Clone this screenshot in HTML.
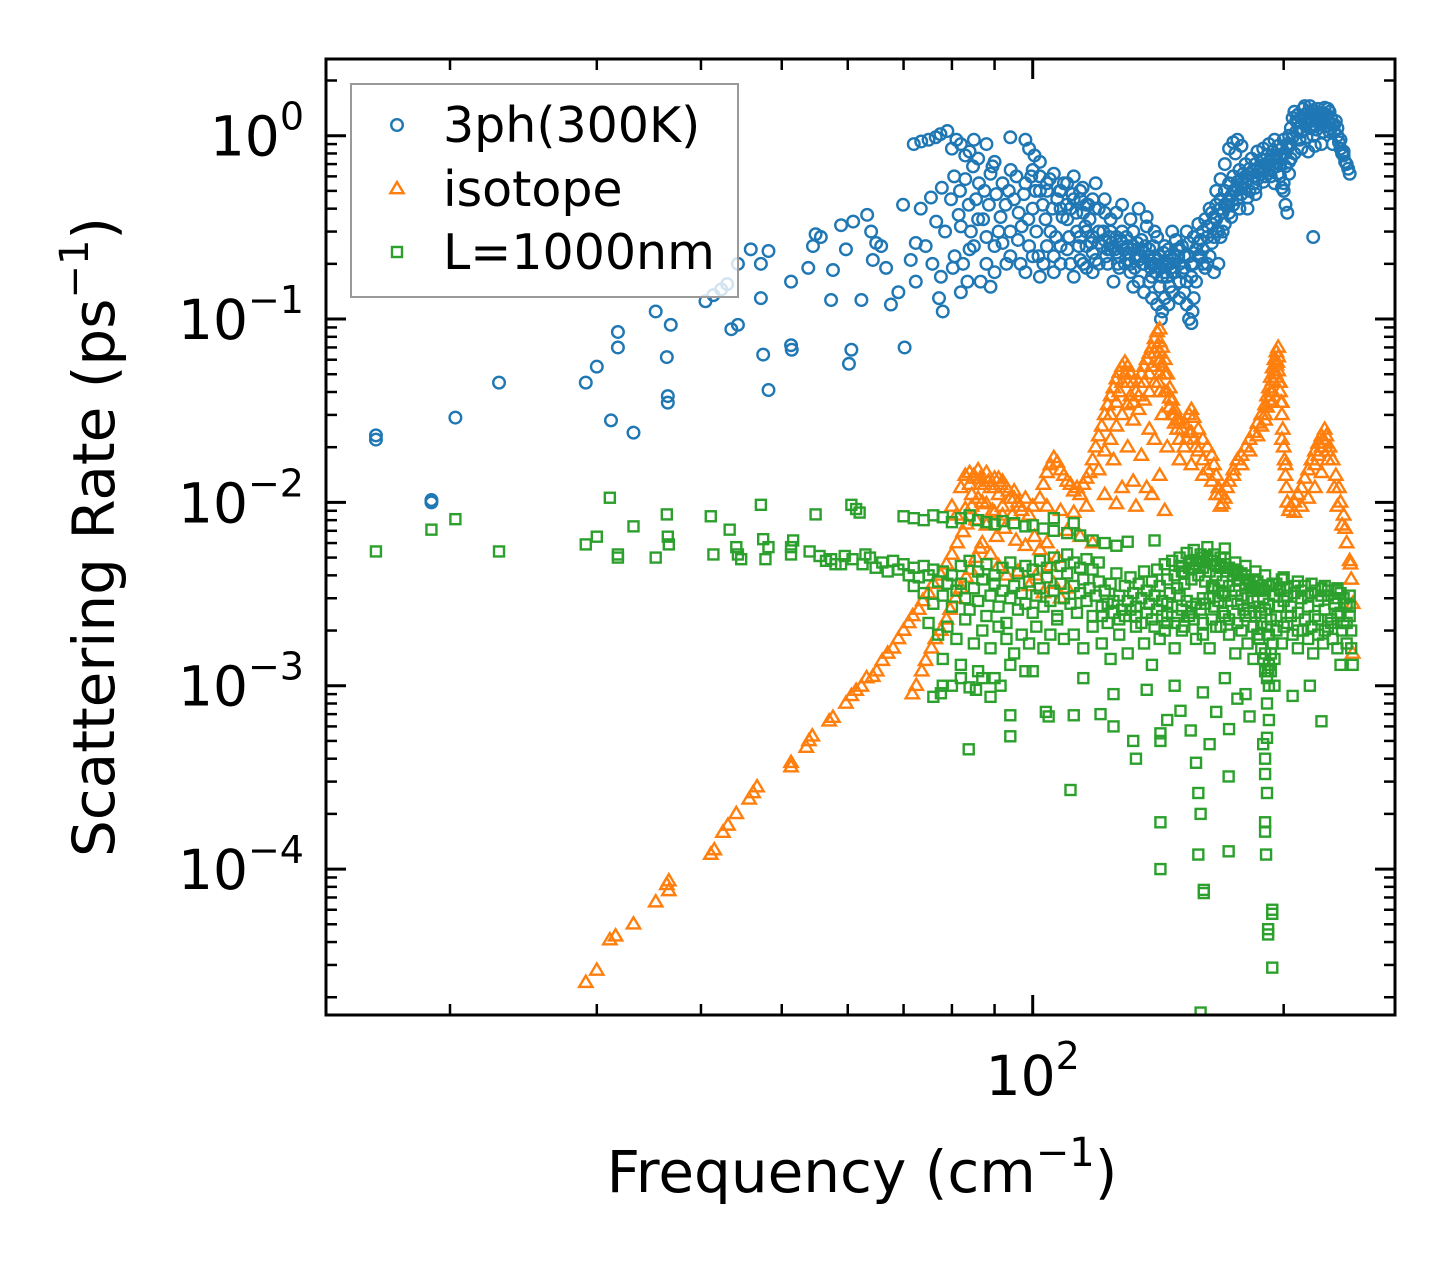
<!DOCTYPE html>
<html><head><meta charset="utf-8"><style>
html,body{margin:0;padding:0;background:#fff;}
svg{display:block;font-family:"DejaVu Sans","Liberation Sans",sans-serif;}
</style></head><body>
<svg id="chart" width="1455" height="1265" viewBox="0 0 1455 1265" xmlns="http://www.w3.org/2000/svg">
<rect x="0" y="0" width="1455" height="1265" fill="#fff"/>
<g id="marks"></g>
<g id="axes"></g>
</svg>
<script>
const xDomain = [14.2, 272];
const yDomain = [1.6e-5, 2.62];
const yTickExps = [0, -1, -2, -3, -4];
const xTickExps = [2];
const seriesNames = ["3ph(300K)", "isotope", "L=1000nm"];

const threePh = [
[16.3,0.022],[16.3,0.0232],[19,0.0100],[19,0.0103],[20.3,0.029],[22.9,0.045],[29.1,0.045],[30,0.055],[31.2,0.028],[31.8,0.07],[31.8,0.085],[33.2,0.024],[35.3,0.11],[36.4,0.062],[36.5,0.038],[36.5,0.035],[36.8,0.093],
[40.5,0.125],[41.4,0.135],[42.3,0.145],[43,0.155],[43.5,0.088],[44.3,0.093],[44.3,0.2],[45.9,0.24],[47.2,0.2],[47.2,0.13],[47.5,0.064],[48.2,0.041],[48.2,0.235],[51.3,0.16],[51.3,0.072],[51.4,0.068],[53.8,0.19],[54.5,0.25],[54.9,0.29],[55.7,0.28],[57.3,0.127],[57.6,0.185],[58.9,0.325],[59.7,0.24],[60.2,0.057],[60.6,0.068],[60.9,0.34],[62.3,0.127],[63.3,0.37],[64,0.3],[64.3,0.21],[64.9,0.26],[65.8,0.25],[66.7,0.19],[67.6,0.12],[69,0.14],[69.9,0.42],[70.2,0.07],[71.4,0.21],[72.4,0.26],[72.4,0.16],[73.4,0.4],[74.4,0.25],[75.5,0.46],[75.8,0.2],[76.6,0.34],[77.2,0.13],[77.6,0.17],[77.8,0.52],[78,0.11],[78.5,0.3],
[72,0.9],[73.5,0.93],[75,0.95],[76.5,0.98],[77.5,1.02],[79,1.06],[80,0.85],[81,0.95],[82,0.9],[83,0.78],[84,0.82],[85,0.95],[86,0.75],[88,0.9],[90,0.72],[89,0.62],[98,0.95],[99,0.85],[100.5,0.78],[102,0.72],[94,0.98],
[79.8,0.45],[80.2,0.19],[80.6,0.22],[81.5,0.37],[82,0.14],[82.5,0.2],[83,0.58],[83.5,0.16],[84.3,0.3],[85,0.25],[85.5,0.45],[86.6,0.16],[87.5,0.5],[88,0.2],[89,0.15],[89.5,0.68],[90,0.25],[91.5,0.36],[92,0.55],[93,0.2],[94,0.3],[94.1,0.65],[95,0.45],[96.7,0.2],[97,0.32],[98,0.55],[99,0.25],[100,0.4],[101,0.3],[102,0.6],[103,0.2],[104,0.5],[105,0.3],[106,0.22],[107,0.45],[108,0.25],[109,0.55],[110,0.35],[111,0.2],[112,0.6],[113,0.3],[114,0.45],[115,0.2],[116,0.25],[117,0.35],[118,0.18],[119,0.55],[120,0.3],
[80.5,0.6],[81.8,0.5],[83.8,0.42],[84.8,0.68],[86.2,0.55],[87.2,0.35],[88.6,0.42],[90.4,0.48],[91,0.3],[92.8,0.42],[93.6,0.5],[95.6,0.6],[96.2,0.38],[97.6,0.48],[98.8,0.35],[99.6,0.6],[100.8,0.5],[101.6,0.22],[102.8,0.42],[103.6,0.35],[104.8,0.58],[105.6,0.4],[106.6,0.28],[107.8,0.5],[108.6,0.36],[109.8,0.42],[110.6,0.28],[111.6,0.48],[112.8,0.38],[113.6,0.25],[114.8,0.52],[115.6,0.32],[116.6,0.42],[117.6,0.26],[118.8,0.4],
[121,0.25],[122,0.45],[123,0.2],[124,0.35],[125,0.16],[126,0.28],[127,0.22],[128,0.3],[129,0.2],[130,0.25],[131,0.18],[132,0.3],[133,0.22],[134,0.16],[135,0.27],[136,0.2],[137,0.32],[138,0.24],[139,0.17],[140,0.22],[141,0.28],[142,0.15],[143,0.2],[144,0.25],[145,0.17],[146,0.22],[147,0.3],[148,0.18],[149,0.24],[150,0.2],
[121.5,0.3],[122.5,0.22],[123.5,0.28],[124.5,0.26],[125.5,0.24],[126.5,0.2],[127.5,0.27],[128.5,0.24],[129.5,0.28],[130.5,0.21],[131.5,0.24],[132.5,0.19],[133.5,0.26],[134.5,0.22],[135.5,0.2],[136.5,0.25],[137.5,0.22],[138.5,0.19],[139.5,0.25],[140.5,0.18],[141.5,0.21],[142.5,0.19],[143.5,0.23],[144.5,0.2],[145.5,0.24],[146.5,0.19],[147.5,0.21],[148.5,0.27],[149.5,0.22],
[126,0.38],[128,0.42],[131,0.35],[134,0.4],[137,0.36],[140,0.3],[132,0.15],[136,0.14],[139,0.13],[141,0.12],[142.5,0.1],[143,0.11],[144,0.13],[145.5,0.12],[147,0.14],[150,0.16],[152,0.14],[153,0.12],[154,0.1],[155,0.095],[155.5,0.11],[156,0.13],
[151,0.25],[152,0.22],[153,0.3],[154,0.26],[155,0.2],[156,0.28],[157,0.24],[158,0.33],[159,0.27],[160,0.3],[161,0.35],[162,0.28],[163,0.4],[164,0.33],[165,0.36],[166,0.42],[167,0.3],[168,0.45],[169,0.38],[170,0.5],[171,0.42],[172,0.55],[173,0.47],[174,0.6],[175,0.5],[176,0.56],[177,0.65],[178,0.52],[179,0.62],[180,0.7],[181,0.58],[182,0.66],[183,0.75],[184,0.6],[185,0.7],[186,0.82],[187,0.64],[188,0.74],[189,0.85],[190,0.7],[191,0.78],[192,0.9],[193,0.72],[194,0.82],[195,0.95],[196,0.78],[197,0.88],[198,0.7],[199,0.85],[200,0.95],[201,0.8],[202,0.9],
[158,0.22],[160,0.24],[162,0.2],[164,0.26],[166,0.3],[168,0.28],[170,0.33],[172,0.38],[174,0.42],[176,0.45],[178,0.48],[180,0.55],[182,0.5],[184,0.55],[186,0.58],[188,0.62],[190,0.6],[192,0.65],[194,0.7],[196,0.68],[198,0.6],[200,0.5],[201,0.42],[202,0.38],[200,0.55],[170,0.7],[172,0.85],[174,0.92],[176,0.95],[178,0.88],[175,0.8],[166,0.5],[168,0.58],[163,0.22],[165,0.18],[167,0.2],[185,0.48],[181,0.4],[195,0.55],[217,0.28],
[203,1.0],[204,1.1],[205,1.25],[206,1.35],[207,1.2],[208,1.3],[209,1.1],[210,1.25],[211,1.4],[212,1.3],[213,1.15],[214,1.35],[215,1.45],[216,1.25],[217,1.38],[218,1.3],[219,1.2],[220,1.4],[221,1.33],[222,1.25],[223,1.3],[224,1.42],[225,1.3],[226,1.22],[227,1.35],[228,1.25],[229,1.15],[230,1.05],[231,1.2],[232,1.0],[203,0.88],[205,0.98],[207,1.05],[209,0.95],[211,1.08],[213,0.98],[215,1.1],[217,1.0],[219,1.08],[221,1.15],[223,1.05],[225,1.12],[227,1.05],[229,0.9],[206,0.8],[210,0.85],[214,0.82],[218,0.88],[222,0.9],
[233,0.92],[234,0.85],[235,0.8],[236,0.78],[237,0.72],[238,0.7],[239,0.66],[240,0.62],[234,0.95],[236,0.82],
[82,0.32],[84,0.24],[86,0.35],[88,0.28],[90,0.18],[92,0.26],[94,0.22],[96,0.27],[98,0.18],[100,0.22],[102,0.17],[104,0.25],[106,0.18],[108,0.2],[110,0.24],[112,0.17],[114,0.21],[116,0.19],[118,0.23],[120,0.2],
[100,0.65],[102,0.5],[104,0.55],[106,0.62],[108,0.5],[110,0.55],[112,0.45],[114,0.5],[116,0.42],[118,0.45],[120,0.4],[122,0.38],[124,0.3],[108,0.4],[111,0.4],[115,0.38],
[114,0.28],[116,0.3],[118,0.28],[120,0.26],[122,0.27],[124,0.24],[126,0.23],[128,0.26],[130,0.23],[132,0.25],[134,0.21],[136,0.23],[138,0.21],[140,0.2],[142,0.22],[144,0.18],[146,0.2],[148,0.22],[150,0.24],[152,0.19],[154,0.22],[156,0.2],[158,0.26],[160,0.2],
[119,0.21],[123,0.24],[127,0.19],[131,0.2],[135,0.24],[139,0.2],[143,0.17],[147,0.18],[151,0.18],[155,0.17],[159,0.22],[161,0.19],[138,0.16],[146,0.15],[150,0.13],[153,0.16],[157,0.16],
[162,0.32],[164,0.38],[166,0.35],[168,0.4],[170,0.42],[172,0.45],[174,0.5],[176,0.52],[178,0.58],[180,0.6],[182,0.62],[184,0.65],[186,0.66],[188,0.68],[190,0.66],[192,0.72],[194,0.75],[196,0.72],[198,0.78],[200,0.8],[202,0.85],[204,0.9],
[165,0.28],[169,0.3],[173,0.36],[177,0.4],[181,0.46],[185,0.52],[189,0.56],[193,0.6],[197,0.62],[201,0.68],[203,0.72],[199,0.52],[203,0.62],[204,0.75],
[208,1.18],[212,1.22],[216,1.32],[220,1.22],[224,1.18],[228,1.1],[230,1.15],[232,1.1],[210,1.05],[214,1.2],[218,1.12],[222,1.32],[226,1.4],[212,1.45],[220,1.28]
];

const isotope = [
[29.1,2.4e-5],[30,2.8e-5],[31.1,4.1e-5],[31.6,4.3e-5],[33.2,5e-5],[35.3,6.6e-5],[36.4,8.2e-5],[36.6,8.6e-5],[36.6,7.6e-5],[41.1,1.2e-4],[41.5,1.27e-4],[42.5,1.58e-4],[43.1,1.73e-4],[44.1,2.0e-4],[45.7,2.4e-4],[46.2,2.6e-4],[46.7,2.8e-4],[51.3,3.6e-4],[51.3,3.8e-4],[53.5,4.6e-4],[53.9,5e-4],[54.4,5.3e-4],[57,6.4e-4],[57.6,6.7e-4],[59.7,8e-4],[60.6,8.8e-4],[61.4,9.4e-4],[62.3,9.9e-4],[63.2,1.1e-3],[64.3,1.12e-3],[65,1.2e-3],[66,1.37e-3],[67,1.5e-3],[68,1.6e-3],[69,1.8e-3],[70,2e-3],[71,2.2e-3],[71.8,2.4e-3],[73,2.6e-3],[73.8,2.9e-3],[75,3.2e-3],[76,3.6e-3],[77.6,4e-3],[78.8,4.6e-3],[80,5.2e-3],[81.2,6e-3],[82.5,6.9e-3],[83.3,7.6e-3],
[71.7,9.0e-4],[72.5,1.0e-3],[73.6,1.2e-3],[74.4,1.37e-3],[75.6,1.6e-3],[76.4,1.8e-3],[77.6,2.0e-3],[78.8,2.3e-3],[79.6,2.6e-3],[80.8,3e-3],[82,3.4e-3],[83.2,3.9e-3],[84.2,4.3e-3],[85.5,5e-3],[86.5,5.6e-3],
[82,0.012],[83,0.014],[84,0.0145],[84.5,0.011],[85,0.0135],[86,0.015],[86.6,0.0125],[87,0.010],[88,0.0145],[89,0.012],[89.5,0.009],[90,0.0135],[91,0.011],[91.5,0.0125],[92,0.0095],[93,0.012],[94,0.0105],[94.5,0.0085],[95,0.0115],[96,0.01],[97,0.009],[98,0.0105],[99,0.0085],[100,0.0095],[80,0.0095],[81,0.0085],[83,0.0092],[85.5,0.008],[88,0.0075],[90.5,0.0065],[92.5,0.0072],[95.5,0.0062],[98,0.0058],[100.5,0.0065],[102,0.0055],[104,0.006],[105,0.0045],[107,0.005],[87,0.006],[89,0.0052],[91,0.0045],[93,0.004],[96,0.0042],[99,0.0035],[101,0.004],[103,0.0032],[106,0.0036],[108,0.003],[110,0.0034],
[102,0.0105],[103,0.0125],[104,0.0145],[105,0.016],[106,0.0175],[107,0.0165],[108,0.015],[109,0.014],[110,0.013],[111,0.0125],[112,0.0115],[113,0.012],[114,0.011],[115,0.0125],[116,0.0135],[117,0.0145],[104,0.0095],[108,0.009],[112,0.0088],[116,0.0095],[110,0.007],[114,0.0065],[118,0.006],
[118,0.017],[119,0.02],[120,0.023],[121,0.026],[122,0.03],[123,0.034],[124,0.038],[125,0.042],[126,0.047],[127,0.051],[128,0.055],[129,0.058],[130,0.055],[131,0.05],[132,0.045],[133,0.04],[134,0.045],[135,0.05],[136,0.055],[137,0.06],[138,0.065],[139,0.07],[140,0.078],[141,0.085],[142,0.088],[142,0.075],[143,0.07],[144,0.06],[145,0.05],[146,0.042],[147,0.036],[148,0.032],[149,0.028],
[120,0.015],[122,0.019],[124,0.022],[126,0.026],[128,0.03],[130,0.034],[132,0.028],[134,0.032],[136,0.036],[138,0.04],[140,0.045],[142,0.05],[144,0.04],[146,0.033],[148,0.027],[125,0.017],[130,0.02],[135,0.018],[140,0.022],[145,0.02],[128,0.012],[132,0.013],[137,0.012],[142,0.014],[138,0.025],[131,0.038],[127,0.04],[143,0.03],[122,0.011],[126,0.0098],[133,0.0095],[139,0.011],[144,0.009],[142,0.065],[141.5,0.045],[142,0.04],[141.8,0.058],
[150,0.028],[152,0.027],[154,0.03],[155,0.032],[156,0.029],[158,0.025],[160,0.022],[162,0.02],[164,0.018],[165,0.016],[166,0.014],[167,0.012],[168,0.011],[169,0.0098],[170,0.0105],[171,0.012],[150,0.022],[152,0.02],[154,0.024],[156,0.022],[158,0.019],[160,0.017],[162,0.015],[164,0.013],[166,0.011],[168,0.0095],[150,0.017],[155,0.016],[160,0.014],
[172,0.013],[174,0.015],[176,0.017],[178,0.018],[180,0.02],[182,0.022],[184,0.024],[186,0.027],[188,0.03],[190,0.034],[191,0.038],[192,0.042],[193,0.048],[194,0.054],[195,0.06],[196,0.066],[197,0.07],[196.5,0.058],[195.5,0.05],[197.5,0.045],[198,0.04],[198.5,0.035],[199,0.03],[199.5,0.025],[200,0.02],[200.5,0.017],[201,0.014],[201.5,0.012],[202,0.01],[203,0.009],[174,0.014],[178,0.016],[182,0.019],[186,0.023],[190,0.028],[194,0.04],[197,0.052],[199,0.022],[201,0.016],
[204,0.0095],[206,0.01],[208,0.011],[210,0.012],[212,0.0135],[214,0.015],[216,0.017],[218,0.019],[220,0.021],[222,0.023],[224,0.025],[223,0.022],[225,0.023],[227,0.02],[229,0.017],[231,0.014],[233,0.012],[234,0.01],[236,0.0085],[237,0.0072],[238,0.006],[240,0.0048],[240.5,0.0046],[242,0.0028],[241,0.0038],[242,0.0015],[206,0.0088],[210,0.0095],[214,0.0105],[218,0.012],[222,0.0145],[226,0.017],[230,0.012],[232,0.0095],[235,0.0075],
[84,0.0125],[85,0.014],[86.5,0.0135],[87.5,0.0125],[88.5,0.013],[90,0.012],[91,0.0135],[92,0.013],[93.5,0.0115],[95,0.0105],[96.5,0.0095],[84.5,0.0095],[86,0.0105],[88,0.0098],[90,0.0088],[92,0.0085],
[124,0.03],[126,0.035],[128,0.045],[129,0.05],[130,0.045],[132,0.035],[134,0.038],[136,0.045],[138,0.05],[139,0.055],[140,0.065],[141,0.07],[142,0.06],[143,0.055],[144,0.05],[145,0.04],[146,0.037],[147,0.03],[148,0.03],[149,0.025],[151,0.025],[153,0.022],[155,0.024],[157,0.02],
[188,0.026],[190,0.03],[191,0.033],[192,0.036],[193,0.04],[194,0.046],[195,0.052],[196,0.056],[197,0.062],[196,0.048],[194,0.035],[198,0.045],[199,0.035],[218,0.016],[220,0.018],[222,0.02],[224,0.021],[226,0.019]
];

const boundary = [
[16.3,0.0054],[19,0.0071],[20.3,0.0081],[22.9,0.0054],[29.1,0.0059],[30,0.0065],[31.1,0.0106],[31.8,0.005],[31.8,0.0052],[33.2,0.0074],[35.3,0.005],[36.4,0.0086],[36.5,0.0065],[36.6,0.0059],[41.1,0.0084],[41.4,0.0052],[43.3,0.0071],[44.1,0.0057],[44.3,0.0052],[44.7,0.0049],[47.2,0.0097],[47.5,0.0063],[47.8,0.0049],[48.2,0.0057],[51.3,0.0057],[51.3,0.0052],[51.6,0.0062],[54.9,0.0086],[57.3,0.0049],[58,0.0046],[58.9,0.0046],[60.6,0.0097],[61.4,0.0092],[62,0.0088],[63,0.0052],
[54,0.0054],[55.5,0.0051],[56.5,0.0048],[59.5,0.0051],[60.8,0.0049],[62.5,0.0046],[63.8,0.005],[64.8,0.0044],[66,0.0047],[67,0.0042],[68,0.0048],[69,0.0043],[70,0.0046],[71,0.004],[72,0.0044],[73,0.0039],[74,0.0045],[75,0.004],[76,0.0043],[77,0.0037],[78,0.0042],[79,0.0036],[80,0.004],
[70,0.0084],[72,0.0082],[74,0.008],[76,0.0085],[78,0.0083],[80,0.0078],[82,0.0082],[84,0.0085],[86,0.008],[88,0.0078],[90,0.0076],[92,0.0079],[95,0.0077],[98,0.0074],[100,0.0075],[103,0.0072],[106,0.007],[110,0.0068],[114,0.0066],[118,0.0062],[122,0.006],[126,0.0058],[106,0.0082],[112,0.0077],[130,0.0061],[140,0.0062],
[72,0.0035],[74,0.0032],[76,0.0028],[78,0.0031],[80,0.0027],[81,0.0033],[82,0.0036],[83,0.003],[84,0.0026],[85,0.0034],[86,0.0029],[87,0.0038],[88,0.0024],[89,0.0031],[90,0.0036],[91,0.0027],[92,0.0033],[93,0.0022],[94,0.003],[95,0.0035],[96,0.0026],[97,0.0032],[98,0.0028],[99,0.0037],[100,0.0025],[101,0.0031],[102,0.0034],[103,0.0027],[104,0.0039],[105,0.0029],[106,0.0033],[107,0.0024],[108,0.0036],[109,0.003],[110,0.0041],
[75,0.0022],[77,0.0019],[79,0.0021],[81,0.0018],[83,0.0023],[85,0.0017],[87,0.002],[89,0.0016],[91,0.0021],[93,0.0018],[95,0.0015],[97,0.0019],[99,0.0017],[101,0.0021],[103,0.0016],[105,0.0019],[107,0.0023],[109,0.0018],[78,0.0014],[82,0.0013],[86,0.0012],[90,0.0011],[94,0.0013],[98,0.0012],[80,0.001],[84,0.00098],[76,0.00087],
[82,0.0045],[84,0.0048],[86,0.0042],[88,0.0046],[90,0.004],[92,0.0044],[94,0.0047],[96,0.0041],[98,0.0045],[100,0.0043],[102,0.0048],[104,0.0044],[106,0.005],[108,0.0045],[110,0.0052],[112,0.0047],[114,0.0044],[116,0.0049],[118,0.0043],[120,0.0047],
[111,0.0028],[112,0.0035],[113,0.0025],[114,0.0032],[115,0.0038],[116,0.0029],[117,0.0034],[118,0.0024],[119,0.0031],[120,0.0037],[121,0.0027],[122,0.0033],[123,0.0022],[124,0.0036],[125,0.0029],[126,0.0041],[127,0.0031],[128,0.0026],[129,0.0035],[130,0.0029],[131,0.0039],[132,0.0032],[133,0.0027],[134,0.0036],[135,0.003],[136,0.0042],[137,0.0033],[138,0.0028],[139,0.0037],[140,0.0031],
[141,0.0043],[142,0.0035],[143,0.0029],[144,0.0046],[145,0.0038],[146,0.0032],[147,0.0048],[148,0.004],[149,0.0034],[150,0.005],[151,0.0042],[152,0.0036],[153,0.0053],[154,0.0044],[155,0.0038],[156,0.0055],[157,0.0046],[158,0.004],[159,0.0052],[160,0.0044],[161,0.0037],[162,0.0049],[163,0.0042],[164,0.0035],[165,0.0046],[166,0.004],[167,0.0033],[168,0.0044],[169,0.0037],[170,0.0031],
[171,0.0042],[172,0.0035],[173,0.0029],[174,0.004],[175,0.0033],[176,0.0028],[177,0.0038],[178,0.0031],[179,0.0026],[180,0.0036],[181,0.003],[182,0.0025],[183,0.0034],[184,0.0029],[185,0.0024],[186,0.0033],[187,0.0027],[188,0.0022],[189,0.003],[190,0.0026],[191,0.0021],[192,0.0028],[193,0.0023],
[195,0.0031],[196,0.0036],[197,0.0027],[198,0.0033],[199,0.0038],[200,0.0029],[202,0.0034],[204,0.0027],[206,0.0032],[208,0.0025],[210,0.003],[212,0.0035],[214,0.0027],[216,0.0032],[218,0.0024],[220,0.0029],[222,0.0034],[224,0.0026],[226,0.0031],[228,0.0023],[230,0.0028],[232,0.0033],[234,0.0025],[236,0.003],[238,0.0022],[240,0.0027],[241,0.002],[242,0.0013],[241,0.0016],
[112,0.0019],[115,0.0016],[118,0.0021],[121,0.0017],[124,0.0014],[127,0.0019],[130,0.0015],[133,0.0021],[136,0.0017],[139,0.0013],[142,0.0018],[145,0.0022],[148,0.0016],[151,0.002],[154,0.0024],[157,0.0018],[160,0.0022],[163,0.0016],[166,0.0021],[169,0.0025],[172,0.0019],[175,0.0015],[178,0.002],[181,0.0017],[184,0.0014],[187,0.0018],[190,0.0015],[193,0.0012],[196,0.002],[199,0.0017],[202,0.0022],[205,0.0019],[208,0.0016],[211,0.002],[214,0.0018],[217,0.0015],[220,0.0019],[223,0.0017],[226,0.0021],[229,0.0018],[232,0.0016],[235,0.002],[238,0.0017],
[145,0.0028],[150,0.0031],[155,0.0027],[160,0.003],[165,0.0027],[170,0.0024],[150,0.0045],[155,0.0048],[160,0.005],[165,0.0052],[170,0.005],[175,0.0047],[180,0.0045],[185,0.0042],[190,0.004],[170,0.0056],[162,0.0057],[168,0.0045],[176,0.0042],[184,0.0038],[192,0.0035],[200,0.0039],[208,0.0037],[216,0.0036],[224,0.0035],[232,0.0034],[240,0.0031],
[83.8,0.00045],[94,0.00053],[94,0.00069],[103.7,0.00072],[104.5,0.00068],[111,0.00027],[112,0.00069],[120.6,0.0007],[125,0.0006],[132,0.0005],[133,0.0004],[142.3,0.00055],[142.3,0.0005],[145,0.00065],[150.4,0.00073],[154.7,0.00057],[157,0.00038],[163,0.00048],[166,0.00072],[172,0.00058],[176,0.00085],[182,0.00068],[189,0.00048],[222,0.00064],[234,0.0013],
[77.6,0.00091],[78,0.001],[82,0.0011],[85.5,0.00095],[87,0.0011],[89,0.00087],[91.5,0.001],[100,0.0012],[115,0.0011],[125,0.0009],[137,0.00095],[148,0.001],[160,0.00092],[170,0.0011],[180,0.0009],[195,0.001],[205,0.00088],[215,0.001],
[142.3,0.00018],[142.3,0.0001],[158,0.00026],[159,0.0002],[158,0.00012],[160.4,0.000077],[160.4,0.000074],[171.8,0.000125],[171.8,0.00032],[190,0.00018],[190,0.00016],[190.5,0.00012],[191.6,0.000047],[191.6,0.000044],[193.8,0.00006],[193.8,0.000057],[193.8,0.000029],[191,0.00026],[190,0.00033],[190,0.0004],[191,0.00052],[192,0.00065],[191,0.0008],[192,0.001],[191.5,0.0012],[159,0.0000165],
[121,0.0024],[123,0.0028],[125,0.0025],[127,0.0023],[129,0.0024],[131,0.0026],[133,0.0024],[135,0.0022],[137,0.0025],[139,0.0023],[141,0.0026],[143,0.0024],[145,0.0025],[147,0.0027],[149,0.0024],[151,0.0026],[153,0.0029],[155,0.0025],[157,0.0028],[159,0.0026],[161,0.0028],[163,0.003],[165,0.0034],[167,0.0029],[169,0.0032],
[140,0.0021],[144,0.002],[148,0.0022],[152,0.0021],[156,0.0023],[160,0.0019],[164,0.0023],[168,0.0021],[172,0.0023],[176,0.0022],[180,0.0024],[184,0.0021],[188,0.0025],[192,0.0019],[196,0.0024],[200,0.0021],[204,0.0024],[208,0.002],[212,0.0023],[216,0.0021],[220,0.0023],[224,0.002],[228,0.0022],[232,0.0024],[236,0.0022],[240,0.0024],
[152,0.0041],[154,0.0046],[156,0.0044],[158,0.0048],[160,0.0047],[162,0.0051],[164,0.0048],[166,0.0045],[168,0.005],[170,0.0046],[172,0.0044],[174,0.0043],[176,0.0038],[178,0.0041],[180,0.004],[182,0.0036],[184,0.0035],[186,0.0037],[188,0.0034],[190,0.0033],[194,0.0036],[198,0.0034],[202,0.0031],[206,0.0035],[210,0.0033],[214,0.0031],[218,0.0033],[222,0.0031],[226,0.0033],[230,0.003],[234,0.0032],[238,0.0028],
[186,0.0019],[188,0.0016],[189,0.0014],[190,0.0012],[191,0.0011],[192,0.0013],[193,0.0015],[194,0.0017],[195,0.0014]
];

const XL = 326, XR = 1395, YT = 59, YB = 1015;
function xScale(v){ const a=Math.log10(xDomain[0]), b=Math.log10(xDomain[1]); return XL + (Math.log10(v)-a)/(b-a)*(XR-XL); }
function yScale(v){ const a=Math.log10(yDomain[0]), b=Math.log10(yDomain[1]); return YB - (Math.log10(v)-a)/(b-a)*(YB-YT); }

const NS = "http://www.w3.org/2000/svg";
function mk(tag, attrs, parent){ const e=document.createElementNS(NS,tag); for(const k in attrs) e.setAttribute(k, attrs[k]); parent.appendChild(e); return e; }

const marks = document.getElementById('marks');
const clip = mk('clipPath',{id:'plotclip'},marks);
mk('rect',{x:XL,y:YT,width:XR-XL,height:YB-YT},clip);
const gB = mk('g',{'clip-path':'url(#plotclip)'},marks);


const gO = mk('g',{'clip-path':'url(#plotclip)'},marks);


const gG = mk('g',{'clip-path':'url(#plotclip)'},marks);



function circle(g,cx,cy){ return mk('circle',{cx:cx,cy:cy,r:5.8,fill:'none',stroke:'#1f77b4','stroke-width':2.4},g); }
function tri(g,cx,cy){ const s=7; return mk('polygon',{points:`${cx},${cy-s} ${cx+s*0.95},${cy+s*0.6} ${cx-s*0.95},${cy+s*0.6}`,fill:'none',stroke:'#ff7f0e','stroke-width':2.4},g); }
function sq(g,cx,cy){ const s=5; return mk('rect',{x:cx-s,y:cy-s,width:2*s,height:2*s,fill:'none',stroke:'#2ca02c','stroke-width':2.4},g); }

threePh.forEach(d=>{ const el=circle(gB,xScale(d[0]),yScale(d[1]));

 });
isotope.forEach(d=>{ const el=tri(gO,xScale(d[0]),yScale(d[1]));

 });
boundary.forEach(d=>{ const el=sq(gG,xScale(d[0]),yScale(d[1]));

 });

const axes = document.getElementById('axes');
const frame = mk('rect',{x:XL,y:YT,width:XR-XL,height:YB-YT,fill:'none',stroke:'#000','stroke-width':3},axes);



for(let e=-5;e<=0;e++){
  for(let m=1;m<=9;m++){
    const v=m*Math.pow(10,e);
    if(v<yDomain[0]||v>yDomain[1]) continue;
    const y=yScale(v); const L=(m===1)?20:11;
    const t1=mk('line',{x1:XL,y1:y,x2:XL+L,y2:y,stroke:'#000','stroke-width':(m===1)?3:2.5},axes);
    
    
    const t2=mk('line',{x1:XR,y1:y,x2:XR-L,y2:y,stroke:'#000','stroke-width':(m===1)?3:2.5},axes);
    
    
  }
}
yTickExps.forEach(ex=>{
  const y=yScale(Math.pow(10,ex));
  const t=mk('text',{x:304,y:y+20,'text-anchor':'end','font-size':55,fill:'#000'},axes);
  
  
  t.appendChild(document.createTextNode('10'));
  const sp=mk('tspan',{dy:-26,'font-size':38},t);
  sp.textContent = ex===0 ? '0' : '\u2212'+(-ex);
});
for(let e=1;e<=2;e++){
  for(let m=1;m<=9;m++){
    const v=m*Math.pow(10,e);
    if(v<xDomain[0]||v>xDomain[1]) continue;
    const x=xScale(v); const L=(m===1)?20:11;
    const t1=mk('line',{x1:x,y1:YB,x2:x,y2:YB-L,stroke:'#000','stroke-width':(m===1)?3:2.5},axes);
    
    
    const t2=mk('line',{x1:x,y1:YT,x2:x,y2:YT+L,stroke:'#000','stroke-width':(m===1)?3:2.5},axes);
    
    
  }
}
xTickExps.forEach(ex=>{
  const x=xScale(Math.pow(10,ex));
  const t=mk('text',{x:x,y:1095,'text-anchor':'middle','font-size':55,fill:'#000'},axes);
  
  
  t.appendChild(document.createTextNode('10'));
  const sp=mk('tspan',{dy:-26,'font-size':38},t);
  sp.textContent=String(ex);
});
const xt=mk('text',{x:862,y:1192,'text-anchor':'middle','font-size':58,fill:'#000'},axes);


xt.appendChild(document.createTextNode('Frequency (cm'));
const xs=mk('tspan',{dy:-26,'font-size':40},xt); xs.textContent='\u22121';
const xs2=mk('tspan',{dy:26},xt); xs2.textContent=')';

const yt=mk('text',{x:0,y:0,'text-anchor':'middle','font-size':58,fill:'#000',transform:'translate(114,537) rotate(-90)'},axes);


yt.appendChild(document.createTextNode('Scattering Rate (ps'));
const ys=mk('tspan',{dy:-26,'font-size':40},yt); ys.textContent='\u22121';
const ys2=mk('tspan',{dy:26},yt); ys2.textContent=')';

const lg=mk('g',{},axes);


const lbox=mk('rect',{x:351,y:84,width:387,height:213,fill:'#fff','fill-opacity':0.8,stroke:'#999','stroke-width':2},lg);


const legY=[125,189,252];
const drawers=[circle,tri,sq];
seriesNames.forEach((nm,i)=>{
  const m=drawers[i](lg,397,legY[i]);
  
  
  const t=mk('text',{x:443,y:legY[i]+17,'font-size':49,fill:'#000'},lg);
  
  
  t.textContent=nm;
});
</script>
</body></html>
